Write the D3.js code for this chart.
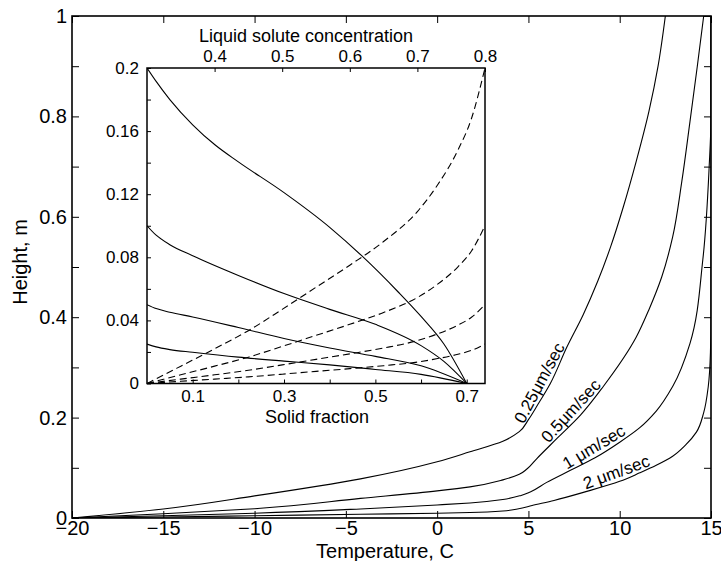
<!DOCTYPE html>
<html>
<head>
<meta charset="utf-8">
<script src="https://cdn.jsdelivr.net/npm/d3@7"></script>
<style>
body { margin: 0; background: #fff; }
text { font-family: "Liberation Sans", Arial, Helvetica, sans-serif; fill: #000; }
</style>
</head>
<body>
<div id="chart"></div>
<script>
// main plot: height vs temperature, one curve per growth rate
var rateLabels = ['0.25\u03bcm/sec', '0.5\u03bcm/sec', '1 \u03bcm/sec', '2 \u03bcm/sec'];

var tempA = [-20, -15, -10, -4.2, 0, 1.8, 3.6, 4.5, 5.0, 5.5, 6.2, 7.1, 8.0, 8.8, 9.5, 10.2, 10.9, 11.6, 12.1, 12.5];
var heightA = [0, 0.018, 0.044, 0.078, 0.112, 0.132, 0.153, 0.172, 0.196, 0.225, 0.268, 0.34, 0.405, 0.472, 0.54, 0.62, 0.71, 0.81, 0.9, 1.0];

var tempB = [-20, -15, -10, -4.2, 0, 1.8, 3.6, 4.5, 4.9, 5.45, 6.55, 7.85, 9.1, 10.9, 11.6, 12.3, 12.9, 13.4, 13.85, 14.25, 14.6];
var heightB = [0, 0.0085, 0.0185, 0.039, 0.054, 0.062, 0.076, 0.087, 0.097, 0.118, 0.158, 0.205, 0.262, 0.36, 0.415, 0.48, 0.56, 0.67, 0.79, 0.9, 1.0];

var tempC = [-20, -15, -10, -4.2, 0, 1.8, 3.6, 4.6, 5.1, 6.0, 7.3, 8.65, 10.0, 11.1, 12.0, 12.9, 13.85, 14.55, 14.9, 15, 15];
var heightC = [0, 0.0045, 0.0095, 0.018, 0.026, 0.03, 0.037, 0.045, 0.052, 0.071, 0.095, 0.12, 0.151, 0.18, 0.213, 0.262, 0.348, 0.514, 0.70, 0.8, 1.0];

var tempD = [-20, -15, -10, -4.2, 0, 1.8, 3.6, 4.4, 5.2, 6.4, 8.2, 10.0, 11.1, 12.0, 12.9, 13.6, 14.2, 14.6, 14.85, 14.97, 15, 15];
var heightD = [0, 0.002, 0.0045, 0.0075, 0.0095, 0.011, 0.014, 0.018, 0.025, 0.035, 0.053, 0.073, 0.09, 0.105, 0.123, 0.145, 0.171, 0.21, 0.262, 0.33, 0.4, 1.0];

// temperature at which each rate label sits along its curve
var labelTemps = [6.07, 7.72, 8.86, 10.0];

var tempTicks = [-20, -15, -10, -5, 0, 5, 10, 15];
var heightTicks = [0, 0.1, 0.2, 0.3, 0.4, 0.5, 0.6, 0.7, 0.8, 0.9, 1];
var heightLabels = [0, 0.2, 0.4, 0.6, 0.8, 1];

// inset: height vs solid fraction (solid) and liquid concentration (dashed)
var phiS1 = [0, 0.02, 0.05, 0.1, 0.15, 0.2, 0.3, 0.4, 0.47, 0.55, 0.6, 0.65, 0.7];
var hS1 = [0.2, 0.1915, 0.18, 0.164, 0.151, 0.1405, 0.121, 0.099, 0.081, 0.058, 0.0425, 0.025, 0];
var phiS2 = [0, 0.02, 0.05, 0.1, 0.2, 0.3, 0.4, 0.5, 0.6, 0.65, 0.7];
var hS2 = [0.1, 0.094, 0.088, 0.081, 0.0685, 0.057, 0.047, 0.0375, 0.024, 0.014, 0];
var phiS3 = [0, 0.02, 0.05, 0.1, 0.2, 0.3, 0.4, 0.5, 0.6, 0.7];
var hS3 = [0.05, 0.0475, 0.0452, 0.0422, 0.0355, 0.0285, 0.0225, 0.0172, 0.0112, 0];
var phiS4 = [0, 0.02, 0.05, 0.1, 0.2, 0.3, 0.4, 0.5, 0.6, 0.7];
var hS4 = [0.025, 0.0232, 0.0215, 0.0198, 0.0167, 0.0142, 0.0118, 0.0089, 0.0058, 0];

var conc = [0.3, 0.35, 0.4, 0.45, 0.5, 0.55, 0.6, 0.65, 0.7, 0.73, 0.76, 0.78, 0.8];
var hL1 = [0, 0.011, 0.022, 0.0335, 0.047, 0.061, 0.075, 0.09, 0.109, 0.126, 0.148, 0.168, 0.2];
var hL2 = [0, 0.0055, 0.011, 0.0167, 0.0235, 0.0305, 0.0375, 0.045, 0.0545, 0.063, 0.074, 0.084, 0.1];
var hL3 = [0, 0.0028, 0.0055, 0.0084, 0.0118, 0.0153, 0.0188, 0.0225, 0.0272, 0.0315, 0.037, 0.042, 0.05];
var hL4 = [0, 0.0014, 0.0028, 0.0042, 0.0059, 0.0077, 0.0094, 0.0113, 0.0136, 0.0158, 0.0185, 0.021, 0.025];

var insetHTicks = [0, 0.02, 0.04, 0.06, 0.08, 0.1, 0.12, 0.14, 0.16, 0.18, 0.2];
var insetHLabels = [0, 0.04, 0.08, 0.12, 0.16, 0.2];
var phiTicks = [0.1, 0.2, 0.3, 0.4, 0.5, 0.6, 0.7];
var phiLabels = [0.1, 0.3, 0.5, 0.7];
var concTicks = [0.4, 0.5, 0.6, 0.7, 0.8];

var width = 721, height = 561;

var svg = d3.select('#chart').append('svg')
	.attr('width', width)
	.attr('height', height)
	.style('background-color', 'white');

var x = d3.scaleLinear().domain([-20, 15]).range([72, 711]);
var y = d3.scaleLinear().domain([0, 1]).range([518, 16]);

// height rises steadily along every main curve, so interpolate monotone in y
var mainLine = d3.line().curve(d3.curveMonotoneY);
var insetLine = d3.line().curve(d3.curveMonotoneX);

function pick(list) {
	return function(d) {
		return list.some(function(v) { return Math.abs(v - d) < 1e-9; }) ? d3.format('~g')(d) : '';
	};
}

function tidy(g, size) {
	g.attr('font-family', null).attr('font-size', null);
	g.select('.domain').remove();
	g.selectAll('line').attr('stroke', '#000').attr('stroke-width', 1);
	g.selectAll('text').style('font-size', size + 'px');
}

// height on a curve at temperature t (straight between the read points)
function heightAt(ts, hs, t) {
	var i = d3.bisectRight(ts, t);
	i = Math.max(1, Math.min(ts.length - 1, i));
	var f = (t - ts[i - 1]) / (ts[i] - ts[i - 1]);
	return hs[i - 1] + f * (hs[i] - hs[i - 1]);
}

svg.append('clipPath').attr('id', 'mainclip')
	.append('rect').attr('x', 72).attr('y', 16).attr('width', 639).attr('height', 502);

var mainT = [tempA, tempB, tempC, tempD];
var mainH = [heightA, heightB, heightC, heightD];

mainT.forEach(function(ts, i) {
	var pts = ts.map(function(t, j) { return [x(t), y(mainH[i][j])]; });
	svg.append('path')
		.attr('d', mainLine(pts))
		.attr('clip-path', 'url(#mainclip)')
		.style('fill', 'none')
		.style('stroke', '#000')
		.style('stroke-width', 1.1);
});

// rate labels ride just above their curve, turned to its local slope
labelTemps.forEach(function(t, i) {
	var ts = mainT[i], hs = mainH[i];
	var px = x(t), py = y(heightAt(ts, hs, t));
	var ax = x(t - 0.5), ay = y(heightAt(ts, hs, t - 0.5));
	var bx = x(t + 0.5), by = y(heightAt(ts, hs, t + 0.5));
	var angle = Math.atan2(by - ay, bx - ax) * 180 / Math.PI;
	svg.append('text')
		.attr('transform', 'translate(' + px + ',' + py + ') rotate(' + angle + ')')
		.attr('text-anchor', 'middle')
		.attr('dy', -4)
		.style('font-size', '17px')
		.text(rateLabels[i]);
});

// main axes, MATLAB style ticks pointing inward
svg.append('g').attr('transform', 'translate(0,518)')
	.call(d3.axisBottom(x).tickValues(tempTicks).tickSize(-7).tickPadding(3).tickFormat(d3.format('~g')))
	.call(tidy, 20);
svg.append('g').attr('transform', 'translate(0,16)')
	.call(d3.axisTop(x).tickValues(tempTicks).tickSize(-7).tickFormat(''))
	.call(tidy, 20);
svg.append('g').attr('transform', 'translate(72,0)')
	.call(d3.axisLeft(y).tickValues(heightTicks).tickSize(-7).tickPadding(5).tickFormat(pick(heightLabels)))
	.call(tidy, 20);
svg.append('g').attr('transform', 'translate(711,0)')
	.call(d3.axisRight(y).tickValues(heightTicks).tickSize(-7).tickFormat(''))
	.call(tidy, 20);

svg.append('rect')
	.attr('x', 72).attr('y', 16).attr('width', 639).attr('height', 502)
	.style('fill', 'none').style('stroke', '#000').style('stroke-width', 1.6);

svg.append('text')
	.attr('x', 385).attr('y', 558)
	.attr('text-anchor', 'middle')
	.style('font-size', '20px')
	.text('Temperature, C');

svg.append('text')
	.attr('transform', 'translate(27,262) rotate(-90)')
	.attr('text-anchor', 'middle')
	.style('font-size', '20px')
	.text('Height, m');

// inset
var ix = d3.scaleLinear().domain([0, 0.74]).range([147, 485]);
var ic = d3.scaleLinear().domain([0.3, 0.8]).range([147, 485]);
var iy = d3.scaleLinear().domain([0, 0.2]).range([383.5, 68]);

svg.append('rect')
	.attr('x', 147).attr('y', 68).attr('width', 338).attr('height', 315.5)
	.style('fill', 'white');

svg.append('clipPath').attr('id', 'insetclip')
	.append('rect').attr('x', 147).attr('y', 68).attr('width', 338).attr('height', 315.5);

var solidPhi = [phiS1, phiS2, phiS3, phiS4];
var solidH = [hS1, hS2, hS3, hS4];
var liquidH = [hL1, hL2, hL3, hL4];

solidPhi.forEach(function(ps, i) {
	var pts = ps.map(function(p, j) { return [ix(p), iy(solidH[i][j])]; });
	svg.append('path')
		.attr('d', insetLine(pts))
		.attr('clip-path', 'url(#insetclip)')
		.style('fill', 'none')
		.style('stroke', '#000')
		.style('stroke-width', 1.1);
});

liquidH.forEach(function(hs) {
	var pts = conc.map(function(c, j) { return [ic(c), iy(hs[j])]; });
	svg.append('path')
		.attr('d', insetLine(pts))
		.attr('clip-path', 'url(#insetclip)')
		.style('fill', 'none')
		.style('stroke', '#000')
		.style('stroke-width', 1.1)
		.style('stroke-dasharray', '7,4');
});

svg.append('g').attr('transform', 'translate(147,0)')
	.call(d3.axisLeft(iy).tickValues(insetHTicks).tickSize(-4).tickPadding(8).tickFormat(pick(insetHLabels)))
	.call(tidy, 17);
svg.append('g').attr('transform', 'translate(0,383.5)')
	.call(d3.axisBottom(ix).tickValues(phiTicks).tickSize(-4).tickPadding(6).tickFormat(pick(phiLabels)))
	.call(tidy, 17);
svg.append('g').attr('transform', 'translate(0,68)')
	.call(d3.axisTop(ic).tickValues(concTicks).tickSize(-4).tickPadding(6).tickFormat(d3.format('~g')))
	.call(tidy, 17);

svg.append('rect')
	.attr('x', 147).attr('y', 68).attr('width', 338).attr('height', 315.5)
	.style('fill', 'none').style('stroke', '#000').style('stroke-width', 1.5);

svg.append('text')
	.attr('x', 306).attr('y', 42)
	.attr('text-anchor', 'middle')
	.style('font-size', '18px')
	.text('Liquid solute concentration');

svg.append('text')
	.attr('x', 317).attr('y', 423)
	.attr('text-anchor', 'middle')
	.style('font-size', '18px')
	.text('Solid fraction');
</script>
</body>
</html>
